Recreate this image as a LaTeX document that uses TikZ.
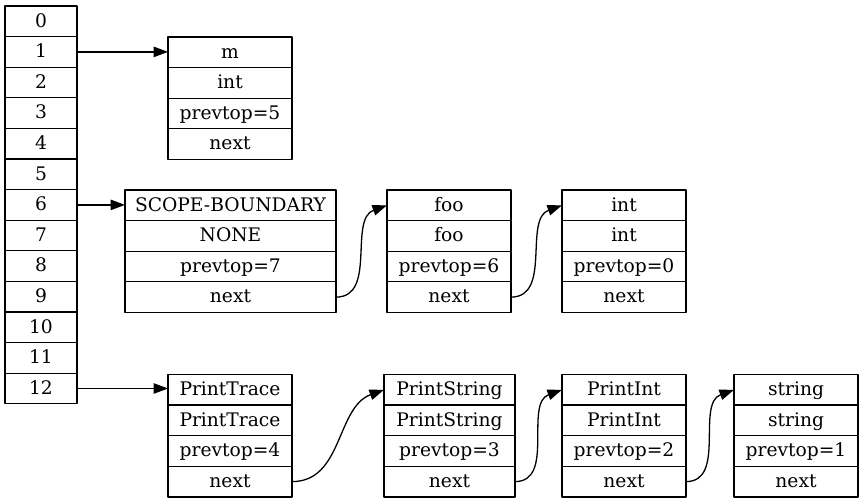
\documentclass[tikz,border=0pt]{standalone}
\usepackage{fontspec}
\setmainfont{DejaVu Serif}
\usetikzlibrary{arrows.meta,positioning}
\begin{document}
\begin{tikzpicture}[x=1pt,y=-1pt,line width=1.3pt,line join=round,
	ptr/.style={-{Triangle[length=14.5pt,width=10.5pt]}},
	cell/.style={draw,inner sep=0pt,outer sep=0pt,minimum height=30.6pt,
		text height=14pt,text depth=2.5pt,font=\fontsize{18.67}{22}\selectfont}]
	\def\h{30.6} % row height
	\useasboundingbox (0,0) rectangle (864,503);
	% the stack of slots
	\foreach \i in {0,...,12}
		\node[cell,minimum width=72pt] (a\i) at (41,{6+\h*(\i+0.5)}) {\i};
	% records: name/centre x/top y/width/fields
	\foreach \nm/\x/\y/\w/\ta/\tb/\tc in {
		m/230/37/124/m/int/5,
		scope/230.5/190/211/SCOPE-BOUNDARY/NONE/7,
		foo/449/190/124/foo/foo/6,
		intr/624/190/124/int/int/0,
		trace/230/374.5/124/PrintTrace/PrintTrace/4,
		pstr/449.5/374.5/131/PrintString/PrintString/3,
		pint/624/374.5/124/PrintInt/PrintInt/2,
		str/796/374.5/124/string/string/1}{
		\node[cell,minimum width=\w pt] (\nm1) at (\x,{\y+\h*0.5}) {\ta};
		\node[cell,minimum width=\w pt,below=0pt of \nm1] (\nm2) {\tb};
		\node[cell,minimum width=\w pt,below=0pt of \nm2] (\nm3) {prevtop=\tc};
		\node[cell,minimum width=\w pt,below=0pt of \nm3] (\nm4) {next};
	}
	% pointers
	\draw[ptr] (a1.east) -- (a1.east -| m1.west);
	\draw[ptr] (a6.east) -- (a6.east -| scope1.west);
	\draw[ptr] (a12.east) -- (a12.east -| trace1.west);
	\draw[ptr] (scope4.east) to[out=0,in=200] (foo1.west);
	\draw[ptr] (foo4.east) to[out=0,in=200] (intr1.west);
	\draw[ptr] (trace4.east) to[out=0,in=200] (pstr1.west);
	\draw[ptr] (pstr4.east) to[out=0,in=200] (pint1.west);
	\draw[ptr] (pint4.east) to[out=0,in=200] (str1.west);
\end{tikzpicture}
\end{document}
